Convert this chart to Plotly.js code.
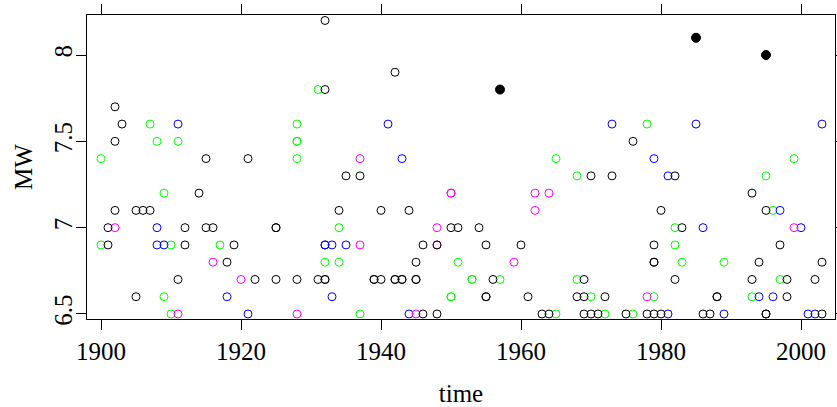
<!DOCTYPE html>
<html>
<head>
<meta charset="utf-8">
<script src="https://cdn.plot.ly/plotly-3.0.1.min.js"></script>
<style>html,body{margin:0;padding:0;background:#fff;}#chart{width:837px;height:407px;}</style>
</head>
<body>
<div id="chart"></div>
<script>
// Black open circles
const blackYear = [1901,1901,1902,1902,1902,1903,1905,1905,1906,1907,1911,1912,1912,1914,1915,1915,1916,1918,1919,1921,1922,1925,1925,1925,1928,1931,1932,1932,1932,1932,
  1934,1935,1937,1939,1939,1940,1940,1942,1942,1942,1943,1943,1944,1945,1945,1945,1946,1946,1948,1948,1950,1951,1954,1955,1955,1955,1956,1960,1961,1963,1964,1968,
  1969,1969,1969,1970,1970,1971,1972,1973,1975,1976,1978,1979,1979,1979,1979,1980,1980,1982,1982,1983,1986,1987,1988,1988,1993,1993,1994,1995,1995,1995,1997,1998,1998,2002,2003,2003];
const blackMW = [7.0,6.9,7.7,7.5,7.1,7.6,7.1,6.6,7.1,7.1,6.7,7.0,6.9,7.2,7.4,7.0,7.0,6.8,6.9,7.4,6.7,7.0,7.0,6.7,6.7,6.7,8.2,7.8,6.7,6.7,
  7.1,7.3,7.3,6.7,6.7,7.1,6.7,7.9,6.7,6.7,6.7,6.7,7.1,6.8,6.7,6.7,6.9,6.5,6.9,6.5,7.0,7.0,7.0,6.9,6.6,6.6,6.7,6.9,6.6,6.5,6.5,6.6,
  6.7,6.6,6.5,7.3,6.5,6.5,6.6,7.3,6.5,7.5,6.5,6.9,6.8,6.8,6.5,7.1,6.5,7.3,6.7,7.0,6.5,6.5,6.6,6.6,7.2,6.7,6.8,7.1,6.5,6.5,6.9,6.7,6.6,6.7,6.8,6.5];

// Green open circles
const greenYear = [1900,1900,1907,1908,1909,1909,1910,1910,1911,1917,1928,1928,1928,1928,1931,1932,1934,1934,1937,1950,1950,1951,1953,1953,1957,1965,1965,1968,1968,1970,1972,1976,1978,1979,1982,1982,1983,1989,1993,1995,1996,1997,1999];
const greenMW = [7.4,6.9,7.6,7.5,7.2,6.6,6.9,6.5,7.5,6.9,7.6,7.5,7.5,7.4,7.8,6.8,7.0,6.8,6.5,6.6,6.6,6.8,6.7,6.7,6.7,7.4,6.5,7.3,6.7,6.6,6.5,6.5,7.6,6.6,7.0,6.9,6.8,6.8,6.6,7.3,7.1,6.7,7.4];

// Blue open circles
const blueYear = [1908,1908,1909,1911,1918,1921,1932,1932,1933,1933,1935,1941,1943,1944,1973,1979,1981,1981,1985,1986,1989,1994,1996,1997,2000,2001,2002,2003];
const blueMW = [7.0,6.9,6.9,7.6,6.6,6.5,6.9,6.9,6.9,6.6,6.9,7.6,7.4,6.5,7.6,7.4,7.3,6.5,7.6,7.0,6.5,6.6,6.6,7.1,7.0,6.5,6.5,7.6];

// Magenta open circles
const magentaYear = [1902,1911,1916,1920,1928,1937,1937,1945,1948,1948,1950,1950,1959,1962,1962,1964,1978,1999];
const magentaMW = [7.0,6.5,6.8,6.7,6.5,7.4,6.9,6.5,7.0,6.9,7.2,7.2,6.8,7.2,7.1,7.2,6.6,7.0];

// Filled black circles
const bigYear = [1957,1985,1995];
const bigMW = [7.8,8.1,8.0];

const xTicks = [1900,1920,1940,1960,1980,2000];
const yTicks = [6.5,7,7.5,8];
const yTickText = ['6.5','7','7.5','8'];

const FONT = '"Liberation Serif", "Times New Roman", serif';

function openTrace(x, y, color) {
  return {x: x, y: y, type: 'scatter', mode: 'markers', hoverinfo: 'skip',
    marker: {symbol: 'circle-open', size: 8, color: color, line: {width: 1, color: color}}};
}

const data = [
  openTrace(greenYear, greenMW, '#00FF00'),
  openTrace(blueYear, blueMW, '#0000FF'),
  openTrace(magentaYear, magentaMW, '#FF00FF'),
  openTrace(blackYear, blackMW, '#000000'),
  {x: bigYear, y: bigMW, type: 'scatter', mode: 'markers', hoverinfo: 'skip',
   marker: {symbol: 'circle', size: 9, color: '#000000', line: {width: 1, color: '#000000'}}}
];

const layout = {
  width: 837, height: 407,
  margin: {l: 87, r: 2, t: 15, b: 88, pad: 0},
  paper_bgcolor: '#ffffff', plot_bgcolor: '#ffffff',
  showlegend: false,
  font: {family: FONT, size: 25, color: '#000000'},
  xaxis: {
    range: [1898.0, 2004.857], autorange: false,
    tickmode: 'array', tickvals: xTicks, ticktext: xTicks.map(String),
    ticks: 'outside', ticklen: 10, tickwidth: 1, tickcolor: '#000',
    showline: true, linecolor: '#000', linewidth: 1, mirror: 'ticks',
    showgrid: false, zeroline: false,
    tickfont: {family: FONT, size: 25, color: '#000'},
    title: {text: 'time', font: {family: FONT, size: 25, color: '#000'}, standoff: 21}
  },
  yaxis: {
    range: [6.471, 8.2317], autorange: false,
    tickmode: 'array', tickvals: yTicks, ticktext: yTickText,
    tickangle: -90, ticklabelstandoff: -6,
    ticks: 'outside', ticklen: 10, tickwidth: 1, tickcolor: '#000',
    showline: true, linecolor: '#000', linewidth: 1, mirror: 'ticks',
    showgrid: false, zeroline: false,
    tickfont: {family: FONT, size: 25, color: '#000'},
    title: {text: 'MW', font: {family: FONT, size: 25, color: '#000'}, standoff: 10}
  }
};

Plotly.newPlot('chart', data, layout, {staticPlot: true, displayModeBar: false});
</script>
</body>
</html>
